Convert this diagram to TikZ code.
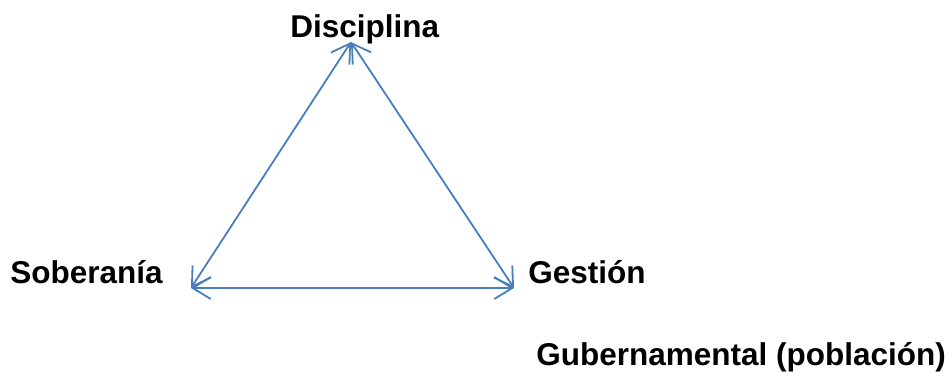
\documentclass[tikz,border=0pt]{standalone}
\usepackage{fontspec}
\setmainfont{Liberation Sans}
\usetikzlibrary{arrows.meta,positioning}
\definecolor{linkblue}{RGB}{74,126,187}

\begin{document}
\begin{tikzpicture}[x=0.5pt,y=-0.5pt,
  lbl/.style={anchor=base west,inner sep=0pt,font=\fontsize{15.75}{18}\selectfont\bfseries},
  link/.style={linkblue,line width=0.9pt,{Straight Barb[length=9pt,width=11pt]}-{Straight Barb[length=9pt,width=11pt]}}]
\useasboundingbox (0,0) rectangle (952,371);
\coordinate (top) at (351,42);
\coordinate (left) at (191,288);
\coordinate (right) at (514,288);
\node[lbl] (disc) at (290,37) {Disciplina};
\node[lbl] (sob) at (10,283) {Soberanía};
\node[lbl] (gest) at (528,283) {Gestión};
\node[lbl] (gub) at (536,365) {Gubernamental (población)};
\draw[link] (top) -- (left);
\draw[link] (top) -- (right);
\draw[link] (left) -- (right);
\end{tikzpicture}
\end{document}
